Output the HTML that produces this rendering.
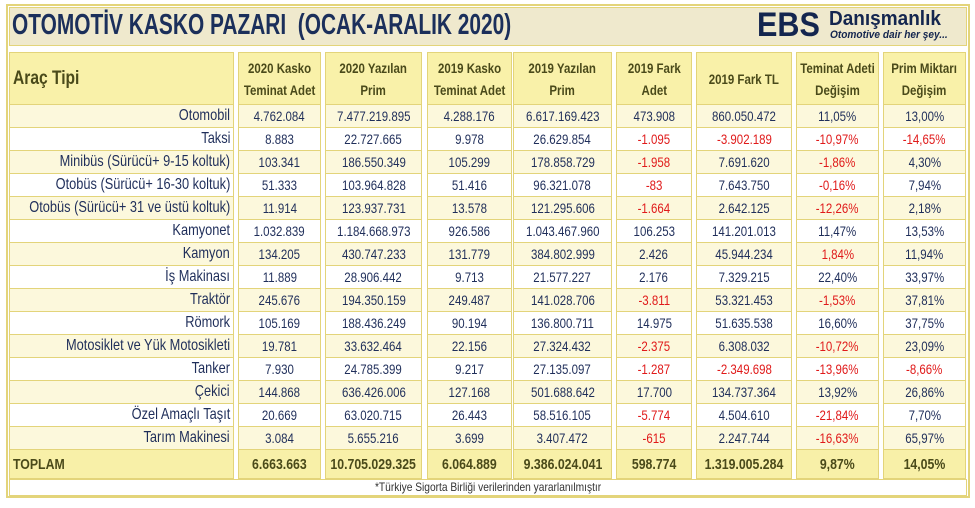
<!DOCTYPE html>
<html><head><meta charset="utf-8">
<style>
body{margin:0;width:975px;height:508px;background:#fff;position:relative;overflow:hidden;font-family:"Liberation Sans",sans-serif;}
.c{position:absolute;box-sizing:border-box;border:1px solid #e3d47a;display:flex;align-items:center;justify-content:center;font-size:14px;color:#1f2e5a;white-space:nowrap;}
.c span{display:inline-block;transform:scaleX(0.82);}
.h{background:#f9f1a9;color:#4a4a1a;font-weight:bold;text-align:center;line-height:22px;font-size:14px;}
.red{color:#e01a1a;}
.tot{background:#f8f0a8;color:#4a4a1a;font-weight:bold;}
.sq{display:inline-block;transform-origin:left center;}
</style></head><body>
<div style="position:absolute;left:6px;top:4px;width:964px;height:494px;border:2px solid #e3d47a;box-sizing:border-box;"></div>
<div style="position:absolute;left:9px;top:7px;width:958px;height:39px;background:#efe9cd;border:1px solid #e3d47a;box-sizing:border-box;"></div>
<div class="sq" style="position:absolute;left:12px;top:9px;font-size:29px;font-weight:bold;color:#1b2f5b;white-space:nowrap;transform:scaleX(0.72);">OTOMOTİV KASKO PAZARI&nbsp; (OCAK-ARALIK 2020)</div>
<div class="sq" style="position:absolute;left:757px;top:6px;font-size:34px;font-weight:900;color:#14264f;transform:scaleX(0.9);">EBS</div>
<div class="sq" style="position:absolute;left:829px;top:8px;font-size:20px;font-weight:bold;color:#14264f;white-space:nowrap;transform:scaleX(0.95);">Danışmanlık</div>
<div class="sq" style="position:absolute;left:830px;top:29px;font-size:11px;font-style:italic;font-weight:bold;color:#14264f;white-space:nowrap;transform:scaleX(0.92);">Otomotive dair her şey...</div>
<div id="tbl"></div>
<div style="position:absolute;left:9px;top:479px;width:958px;height:17px;border:1px solid #e3d47a;box-sizing:border-box;text-align:center;font-size:12px;color:#333;line-height:15px;"><span style="display:inline-block;transform:scaleX(0.85);">*Türkiye Sigorta Birliği verilerinden yararlanılmıştır</span></div>
<script>
const headers=["Araç Tipi","2020 Kasko<br>Teminat Adet","2020 Yazılan<br>Prim","2019 Kasko<br>Teminat Adet","2019 Yazılan<br>Prim","2019 Fark<br>Adet","2019 Fark TL","Teminat Adeti<br>Değişim","Prim Miktarı<br>Değişim"];
const categories=["Otomobil","Taksi","Minibüs (Sürücü+ 9-15 koltuk)","Otobüs (Sürücü+ 16-30 koltuk)","Otobüs (Sürücü+ 31 ve üstü koltuk)","Kamyonet","Kamyon","İş Makinası","Traktör","Römork","Motosiklet ve Yük Motosikleti","Tanker","Çekici","Özel Amaçlı Taşıt","Tarım Makinesi"];
const adet2020=["4.762.084","8.883","103.341","51.333","11.914","1.032.839","134.205","11.889","245.676","105.169","19.781","7.930","144.868","20.669","3.084"];
const prim2020=["7.477.219.895","22.727.665","186.550.349","103.964.828","123.937.731","1.184.668.973","430.747.233","28.906.442","194.350.159","188.436.249","33.632.464","24.785.399","636.426.006","63.020.715","5.655.216"];
const adet2019=["4.288.176","9.978","105.299","51.416","13.578","926.586","131.779","9.713","249.487","90.194","22.156","9.217","127.168","26.443","3.699"];
const prim2019=["6.617.169.423","26.629.854","178.858.729","96.321.078","121.295.606","1.043.467.960","384.802.999","21.577.227","141.028.706","136.800.711","27.324.432","27.135.097","501.688.642","58.516.105","3.407.472"];
const farkAdet=["473.908","-1.095","-1.958","-83","-1.664","106.253","2.426","2.176","-3.811","14.975","-2.375","-1.287","17.700","-5.774","-615"];
const farkTL=["860.050.472","-3.902.189","7.691.620","7.643.750","2.642.125","141.201.013","45.944.234","7.329.215","53.321.453","51.635.538","6.308.032","-2.349.698","134.737.364","4.504.610","2.247.744"];
const teminatPct=["11,05%","-10,97%","-1,86%","-0,16%","-12,26%","11,47%","1,84%","22,40%","-1,53%","16,60%","-10,72%","-13,96%","13,92%","-21,84%","-16,63%"];
const primPct=["13,00%","-14,65%","4,30%","7,94%","2,18%","13,53%","11,94%","33,97%","37,81%","37,75%","23,09%","-8,66%","26,86%","7,70%","65,97%"];
const totals=["TOPLAM","6.663.663","10.705.029.325","6.064.889","9.386.024.041","598.774","1.319.005.284","9,87%","14,05%"];
const redOverride=[[6,7]];
const colX=[9,238,325,427,513,616,696,796,883];
const colW=[225,83,97,85,99,76,96,83,83];
const tbl=document.getElementById('tbl');
function cell(x,y,w,h,html,cls,name,bg){
  const d=document.createElement('div');
  d.className='c '+cls;
  d.style.left=x+'px';d.style.top=y+'px';d.style.width=w+'px';d.style.height=h+'px';
  if(bg)d.style.background=bg;
  d.innerHTML='<span>'+html+'</span>';
  
  
  tbl.appendChild(d);return d;
}
headers.forEach((t,i)=>{
  const d=cell(colX[i],52,colW[i],53,t,'h','header-'+i);
  if(i===0){d.style.justifyContent='flex-start';d.style.paddingLeft='3px';d.style.fontSize='19px';d.firstChild.style.transformOrigin='left center';}
});
const cols=[categories,adet2020,prim2020,adet2019,prim2019,farkAdet,farkTL,teminatPct,primPct];
categories.forEach((c,r)=>{
  const y=104+r*23;
  const bg=r%2===0?'#fcf8dc':'#ffffff';
  cols.forEach((arr,i)=>{
    let v=arr[r];
    let cls='';
    if(i>0&&v.startsWith('-'))cls='red';
    if(redOverride.some(o=>o[0]===r&&o[1]===i))cls='red';
    const d=cell(colX[i],y,colW[i],24,v,cls,'cell-r'+r+'-c'+i,bg);
    if(i===0){d.style.justifyContent='flex-end';d.style.paddingRight='3px';d.style.fontSize='16px';d.firstChild.style.transformOrigin='right center';d.firstChild.style.transform='scaleX(0.8)';}
  });
});
totals.forEach((t,i)=>{
  const d=cell(colX[i],449,colW[i],30,t,'tot','total-'+i);
  d.style.fontSize='15px';
  if(i===0){d.style.justifyContent='flex-start';d.style.paddingLeft='3px';d.firstChild.style.transformOrigin='left center';}
});
</script>
</body></html>
